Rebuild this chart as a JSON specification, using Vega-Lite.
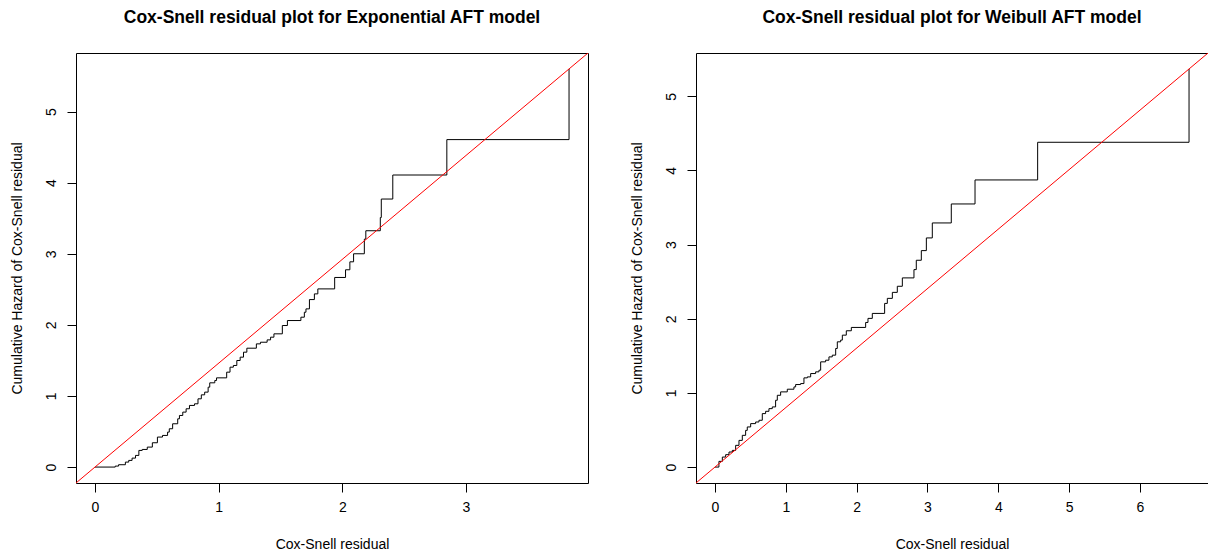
{
  "$schema": "https://vega.github.io/schema/vega-lite/v6.json",
  "background": "white",
  "padding": {"left": 9, "top": 8, "right": 0, "bottom": 0},
  "bounds": "flush",
  "spacing": 108,
  "datasets": {
    "expo": [
      {"r":0,"h":0},{"r":0.164,"h":0.014},{"r":0.191,"h":0.033},{"r":0.246,"h":0.070},{"r":0.273,"h":0.094},{"r":0.300,"h":0.126},{"r":0.328,"h":0.164},{"r":0.355,"h":0.234},{"r":0.382,"h":0.248},{"r":0.423,"h":0.281},{"r":0.464,"h":0.342},{"r":0.505,"h":0.422},{"r":0.546,"h":0.445},{"r":0.587,"h":0.492},{"r":0.601,"h":0.539},{"r":0.628,"h":0.609},{"r":0.669,"h":0.679},{"r":0.683,"h":0.726},{"r":0.710,"h":0.773},{"r":0.737,"h":0.820},{"r":0.764,"h":0.867},{"r":0.805,"h":0.890},{"r":0.833,"h":0.960},{"r":0.860,"h":1.016},{"r":0.887,"h":1.054},{"r":0.915,"h":1.124},{"r":0.928,"h":1.185},{"r":0.969,"h":1.218},{"r":0.983,"h":1.255},{"r":1.065,"h":1.335},{"r":1.092,"h":1.405},{"r":1.119,"h":1.429},{"r":1.147,"h":1.499},{"r":1.174,"h":1.546},{"r":1.201,"h":1.616},{"r":1.228,"h":1.672},{"r":1.305,"h":1.733},{"r":1.338,"h":1.756},{"r":1.392,"h":1.789},{"r":1.420,"h":1.827},{"r":1.447,"h":1.874},{"r":1.515,"h":1.991},{"r":1.556,"h":2.061},{"r":1.665,"h":2.108},{"r":1.693,"h":2.178},{"r":1.706,"h":2.225},{"r":1.734,"h":2.356},{"r":1.774,"h":2.436},{"r":1.802,"h":2.506},{"r":1.938,"h":2.667},{"r":2.026,"h":2.775},{"r":2.061,"h":2.887},{"r":2.091,"h":3.0},{"r":2.178,"h":3.206},{"r":2.19,"h":3.324},{"r":2.307,"h":3.51},{"r":2.315,"h":3.77},{"r":2.408,"h":4.108},{"r":2.845,"h":4.606},{"r":3.833,"h":5.60}
    ],
    "weib": [
      {"r":0,"h":0},{"r":0.056,"h":0.077},{"r":0.104,"h":0.135},{"r":0.151,"h":0.167},{"r":0.198,"h":0.203},{"r":0.245,"h":0.225},{"r":0.292,"h":0.293},{"r":0.339,"h":0.360},{"r":0.386,"h":0.428},{"r":0.433,"h":0.495},{"r":0.456,"h":0.541},{"r":0.504,"h":0.586},{"r":0.574,"h":0.608},{"r":0.621,"h":0.631},{"r":0.668,"h":0.721},{"r":0.715,"h":0.752},{"r":0.762,"h":0.788},{"r":0.809,"h":0.811},{"r":0.856,"h":0.901},{"r":0.880,"h":0.968},{"r":0.927,"h":1.014},{"r":1.021,"h":1.050},{"r":1.115,"h":1.081},{"r":1.139,"h":1.113},{"r":1.209,"h":1.126},{"r":1.256,"h":1.203},{"r":1.304,"h":1.216},{"r":1.351,"h":1.261},{"r":1.421,"h":1.284},{"r":1.468,"h":1.306},{"r":1.492,"h":1.419},{"r":1.562,"h":1.441},{"r":1.609,"h":1.486},{"r":1.656,"h":1.509},{"r":1.704,"h":1.599},{"r":1.727,"h":1.689},{"r":1.774,"h":1.712},{"r":1.798,"h":1.779},{"r":1.854,"h":1.838},{"r":1.925,"h":1.883},{"r":2.127,"h":1.95},{"r":2.16,"h":2.005},{"r":2.221,"h":2.072},{"r":2.395,"h":2.207},{"r":2.433,"h":2.275},{"r":2.504,"h":2.356},{"r":2.574,"h":2.438},{"r":2.645,"h":2.551},{"r":2.809,"h":2.663},{"r":2.842,"h":2.789},{"r":2.913,"h":2.919},{"r":2.984,"h":3.09},{"r":3.068,"h":3.292},{"r":3.336,"h":3.548},{"r":3.671,"h":3.872},{"r":4.555,"h":4.38},{"r":6.692,"h":5.369}
    ],
    "refL": [{"r":-1,"h":-1.461},{"r":5,"h":7.305}],
    "refW": [{"r":-1,"h":-0.8023},{"r":8,"h":6.418}]
  },
  "hconcat": [
    {
      "width": 512, "height": 430,
      "title": "Cox-Snell residual plot for Exponential AFT model",
      "layer": [
        {
          "data": {"name": "expo"},
          "mark": {"type": "line", "interpolate": "step-after", "color": "black", "strokeWidth": 1},
          "encoding": {
            "x": {"field": "r", "type": "quantitative", "scale": {"domain": [-0.1533, 3.9863], "nice": false, "zero": false}, "axis": {"values": [0,1,2,3], "format": "d", "title": "Cox-Snell residual"}},
            "y": {"field": "h", "type": "quantitative", "scale": {"domain": [-0.224, 5.824], "nice": false, "zero": false}, "axis": {"values": [0,1,2,3,4,5], "format": "d", "title": "Cumulative Hazard of Cox-Snell residual"}}
          }
        },
        {
          "data": {"name": "refL"},
          "mark": {"type": "line", "color": "#FF0000", "strokeWidth": 1, "clip": true},
          "encoding": {
            "x": {"field": "r", "type": "quantitative"},
            "y": {"field": "h", "type": "quantitative"}
          }
        }
      ]
    },
    {
      "width": 512, "height": 430,
      "title": "Cox-Snell residual plot for Weibull AFT model",
      "layer": [
        {
          "data": {"name": "weib"},
          "mark": {"type": "line", "interpolate": "step-after", "color": "black", "strokeWidth": 1},
          "encoding": {
            "x": {"field": "r", "type": "quantitative", "scale": {"domain": [-0.2677, 6.9597], "nice": false, "zero": false}, "axis": {"values": [0,1,2,3,4,5,6], "format": "d", "title": "Cox-Snell residual"}},
            "y": {"field": "h", "type": "quantitative", "scale": {"domain": [-0.2148, 5.5838], "nice": false, "zero": false}, "axis": {"values": [0,1,2,3,4,5], "format": "d", "title": "Cumulative Hazard of Cox-Snell residual"}}
          }
        },
        {
          "data": {"name": "refW"},
          "mark": {"type": "line", "color": "#FF0000", "strokeWidth": 1, "clip": true},
          "encoding": {
            "x": {"field": "r", "type": "quantitative"},
            "y": {"field": "h", "type": "quantitative"}
          }
        }
      ]
    }
  ],
  "config": {
    "view": {"stroke": "black", "strokeWidth": 1},
    "axis": {
      "domain": false, "grid": false,
      "tickColor": "black", "tickSize": 9, "tickWidth": 1,
      "labelFont": "Liberation Sans", "labelFontSize": 14, "labelColor": "black",
      "titleFont": "Liberation Sans", "titleFontSize": 14, "titleFontWeight": "normal", "titleColor": "black"
    },
    "axisX": {"labelPadding": 8, "titlePadding": 23},
    "axisY": {"labelAngle": -90, "labelAlign": "center", "labelBaseline": "bottom", "labelPadding": 9, "titlePadding": 20},
    "title": {"font": "Liberation Sans", "fontSize": 17.5, "fontWeight": "bold", "color": "black", "anchor": "middle", "offset": 27}
  }
}
